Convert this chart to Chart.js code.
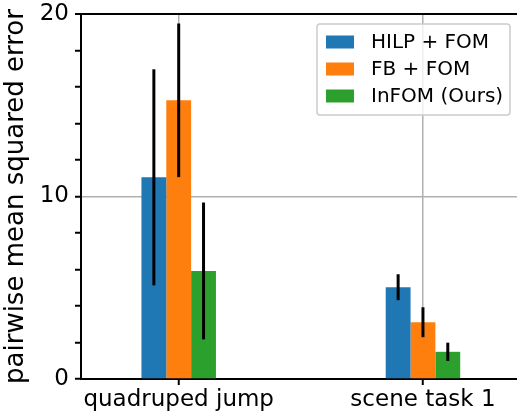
<!DOCTYPE html>
<html>
<head>
<meta charset="utf-8">
<script src="https://cdn.jsdelivr.net/npm/chart.js@4.4.1/dist/chart.umd.min.js"></script>
<style>
  html, body { margin: 0; padding: 0; background: #fff; }
  #wrap { width: 517px; height: 414px; }
</style>
</head>
<body>
<div id="wrap"><canvas id="mseChart" width="517" height="414"></canvas></div>
<script>
// categories and series
const categories = ['quadruped jump', 'scene task 1'];
const seriesNames = ['HILP + FOM', 'FB + FOM', 'InFOM (Ours)'];
const hilpMean = [11.05, 5.03];
const hilpErr = [5.92, 0.71];
const fbMean = [15.27, 3.11];
const fbErr = [4.21, 0.82];
const infomMean = [5.92, 1.49];
const infomErr = [3.75, 0.50];
const colors = ['#1f77b4', '#ff7f0e', '#2ca02c'];
const yTicksMajor = [0, 10, 20];

const FONT = 'DejaVu Sans';

function toPoints(vals) {
    return vals.map(function(v, i) { return { x: i, y: v }; });
}

// error bars drawn from each bar's x and the y scale
const errorBars = {
    id: 'errorBars',
    afterDatasetsDraw(chart) {
        const ctx = chart.ctx;
        const yScale = chart.scales.y;
        ctx.save();
        ctx.strokeStyle = '#000';
        ctx.lineWidth = 3;
        chart.data.datasets.forEach(function(ds, di) {
            const meta = chart.getDatasetMeta(di);
            meta.data.forEach(function(bar, i) {
                const m = ds.data[i].y;
                const e = ds.errors[i];
                ctx.beginPath();
                ctx.moveTo(bar.x, yScale.getPixelForValue(m + e));
                ctx.lineTo(bar.x, yScale.getPixelForValue(m - e));
                ctx.stroke();
            });
        });
        ctx.restore();
    }
};

// matplotlib-like legend in the upper right of the plot
const legendBox = {
    id: 'legendBox',
    afterDraw(chart) {
        const ctx = chart.ctx;
        const area = chart.chartArea;
        const left = area.right - 200;
        const top = area.top + 10;
        const w = 193, h = 91;
        ctx.save();
        ctx.beginPath();
        ctx.roundRect(left, top, w, h, 3);
        ctx.fillStyle = 'rgba(255,255,255,0.8)';
        ctx.fill();
        ctx.strokeStyle = '#cccccc';
        ctx.lineWidth = 1.5;
        ctx.stroke();
        ctx.font = '20px "' + FONT + '"';
        ctx.textBaseline = 'middle';
        chart.data.datasets.forEach(function(ds, i) {
            const cy = top + 18 + i * 27;
            ctx.fillStyle = ds.backgroundColor;
            ctx.fillRect(left + 9, cy - 6.5, 28, 13);
            ctx.fillStyle = '#000';
            ctx.fillText(ds.label, left + 54, cy + 1);
        });
        ctx.restore();
    }
};

const ctx = document.getElementById('mseChart').getContext('2d');
new Chart(ctx, {
    type: 'bar',
    data: {
        datasets: [
            { label: seriesNames[0], data: toPoints(hilpMean), errors: hilpErr, backgroundColor: colors[0] },
            { label: seriesNames[1], data: toPoints(fbMean), errors: fbErr, backgroundColor: colors[1] },
            { label: seriesNames[2], data: toPoints(infomMean), errors: infomErr, backgroundColor: colors[2] }
        ]
    },
    options: {
        responsive: false,
        animation: false,
        devicePixelRatio: 1,
        barPercentage: 1,
        categoryPercentage: 0.305,
        layout: { padding: { top: 14, right: 0, left: 0, bottom: 0 } },
        plugins: {
            legend: { display: false },
            tooltip: { enabled: false }
        },
        scales: {
            x: {
                type: 'linear',
                min: -0.4,
                max: 1.385,
                offset: false,
                afterBuildTicks(scale) {
                    scale.ticks = categories.map(function(c, i) { return { value: i }; });
                },
                afterFit(scale) { scale.height = 35; },
                ticks: {
                    callback: function(v) { return categories[v]; },
                    font: { family: FONT, size: 23 },
                    color: '#000',
                    padding: 1,
                    maxRotation: 0
                },
                grid: {
                    offset: false,
                    color: '#b0b0b0',
                    lineWidth: 1.5,
                    tickColor: '#000',
                    tickWidth: 2,
                    tickLength: 6
                },
                border: { color: '#000', width: 2 }
            },
            y: {
                min: 0,
                max: 20,
                afterFit(scale) {
                    scale.width = 81;
                    scale.paddingTop = 0;
                    scale.paddingBottom = 0;
                },
                ticks: {
                    stepSize: 2,
                    callback: function(v) { return yTicksMajor.includes(v) ? v : ''; },
                    font: { family: FONT, size: 23 },
                    color: '#000',
                    padding: 6
                },
                grid: {
                    color: function(c) {
                        if (c.tick.value === 20) return '#000';
                        if (c.tick.value === 10) return '#b0b0b0';
                        return 'rgba(0,0,0,0)';
                    },
                    lineWidth: function(c) { return c.tick.value === 20 ? 2 : 1.5; },
                    tickColor: '#000',
                    tickWidth: 2,
                    tickLength: 6
                },
                border: { color: '#000', width: 2 },
                title: {
                    display: true,
                    text: 'pairwise mean squared error',
                    font: { family: FONT, size: 26 },
                    color: '#000',
                    padding: { top: 1, bottom: 0 }
                }
            }
        }
    },
    plugins: [errorBars, legendBox]
});
</script>
</body>
</html>
